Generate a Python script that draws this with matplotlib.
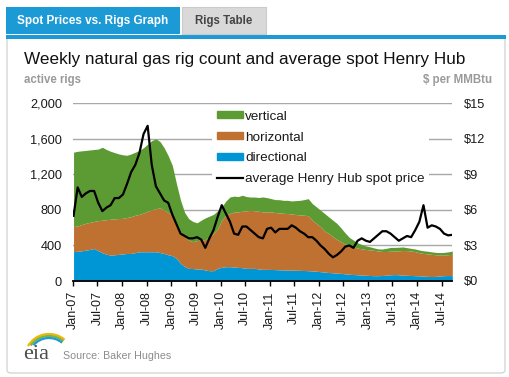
import numpy as np
import pandas as pd
import matplotlib
matplotlib.use("Agg")
import matplotlib.pyplot as plt
import matplotlib.dates as mdates
from matplotlib.patches import Rectangle, FancyBboxPatch, Patch, Arc
from matplotlib.lines import Line2D
from matplotlib.ticker import FuncFormatter

plt.rcParams['font.family'] = ['Liberation Sans', 'DejaVu Sans']

# ---------------- data (monthly readings, Jan-2007 .. Sep-2014) ----------------
first_week = "2007-01-05"
last_week = "2014-09-19"

# cumulative level of directional rigs (bottom layer)
directional_top = [330, 335, 340, 348, 355, 366, 340, 318, 300, 292, 295, 300,
                   305, 310, 310, 320, 329, 329, 329, 329, 329, 320, 310, 295,
                   285, 254, 198, 161, 142, 140, 135, 135, 123, 116, 116, 142,
                   155, 161, 161, 158, 153, 150, 142, 142, 142, 135, 131, 131,
                   130, 128, 126, 125, 123, 122, 121, 120, 118, 116, 113, 110,
                   105, 100, 96, 92, 88, 86, 80, 76, 73, 70, 67, 65,
                   62, 60, 60, 62, 66, 70, 72, 70, 66, 64, 62, 60,
                   58, 55, 52, 50, 52, 56, 60, 62, 60]
# cumulative level of directional + horizontal rigs
horizontal_top = [612, 620, 635, 650, 660, 670, 680, 684, 690, 695, 700, 703,
                  705, 715, 725, 740, 750, 765, 785, 800, 815, 822, 800, 770,
                  740, 647, 553, 497, 460, 441, 455, 460, 467, 497, 535, 590,
                  684, 740, 759, 775, 778, 785, 789, 796, 790, 785, 778, 778,
                  778, 770, 766, 762, 759, 754, 748, 744, 740, 735, 684, 647,
                  609, 561, 535, 497, 467, 441, 415, 400, 385, 370, 362, 355,
                  350, 345, 338, 332, 332, 335, 337, 340, 343, 342, 338, 330,
                  318, 310, 305, 300, 295, 292, 292, 296, 300]
# total natural gas rigs (directional + horizontal + vertical)
total_rigs = [1450, 1460, 1465, 1470, 1475, 1480, 1485, 1505, 1480, 1460, 1445, 1430,
              1420, 1415, 1430, 1450, 1470, 1500, 1540, 1580, 1600, 1570, 1500, 1410,
              1300, 1095, 908, 770, 700, 670, 655, 684, 710, 730, 750, 790,
              834, 900, 946, 955, 950, 965, 950, 945, 945, 940, 946, 938,
              927, 916, 915, 908, 908, 901, 905, 908, 916, 927, 871, 834,
              796, 759, 721, 684, 647, 595, 540, 490, 460, 430, 410, 395,
              385, 372, 362, 360, 368, 378, 378, 380, 383, 375, 367, 360,
              348, 340, 335, 328, 322, 320, 322, 328, 337]
# average Henry Hub spot price, $/MMBtu
henry_hub = [5.5, 7.9, 7.1, 7.4, 7.6, 7.6, 6.6, 5.9, 6.2, 6.4, 7.0, 7.0,
             7.3, 8.2, 9.2, 9.8, 10.8, 12.4, 13.1, 9.8, 8.0, 7.4, 6.8, 6.6,
             5.6, 4.8, 4.0, 3.8, 3.6, 3.6, 3.7, 3.5, 2.8, 3.6, 4.3, 5.4,
             6.4, 5.7, 5.0, 4.0, 3.9, 4.6, 4.6, 4.3, 4.0, 3.7, 3.6, 4.4,
             4.5, 4.1, 4.4, 4.4, 4.4, 4.7, 4.5, 4.2, 4.0, 3.7, 3.7, 3.4,
             3.0, 2.7, 2.3, 2.0, 2.2, 2.5, 2.9, 3.0, 2.8, 3.4, 3.6, 3.4,
             3.3, 3.6, 3.9, 4.2, 4.2, 4.0, 3.7, 3.4, 3.6, 3.8, 3.7, 4.3,
             5.0, 6.4, 4.5, 4.7, 4.6, 4.4, 4.0, 3.85, 3.9]

series_names = ["vertical", "horizontal", "directional", "average Henry Hub spot price"]
rig_ticks = [0, 400, 800, 1200, 1600, 2000]
price_ticks = [0, 3, 6, 9, 12, 15]

dates = pd.date_range(first_week, last_week, periods=len(total_rigs))

# ---------------- styling ----------------
C_GREEN = "#5c9b34"
C_BROWN = "#be7130"
C_BLUE = "#0096d6"
C_TAB = "#1b9ad6"

W, H = 510, 377
fig = plt.figure(figsize=(W / 100, H / 100), dpi=100)
fig.patch.set_facecolor("white")


def fx(x):
    return x / W


def fy(y):
    return 1 - y / H


# panel frame, tabs (drawn beneath the axes)
deco = [
    FancyBboxPatch((fx(7), fy(373)), fx(505) - fx(7), fy(37) - fy(373),
                   boxstyle="round,pad=0,rounding_size=0.008",
                   fc="white", ec="#d6d6d6", lw=1),
    Rectangle((fx(6), fy(38.5)), fx(505.5) - fx(6), fy(34.5) - fy(38.5), fc=C_TAB, ec="none"),
    Rectangle((fx(6), fy(33.5)), fx(180) - fx(6), fy(7) - fy(33.5), fc=C_TAB, ec="none"),
    Rectangle((fx(181.5), fy(33.5)), fx(266) - fx(181.5), fy(7.5) - fy(33.5),
              fc="#d9d9d9", ec="#cacaca", lw=0.8),
]
for p in deco:
    p.set_transform(fig.transFigure)
    p.set_zorder(-10)
    fig.patches.append(p)

fig.text(fx(93), fy(21), "Spot Prices vs. Rigs Graph", color="white", fontsize=8.5,
         fontweight="bold", ha="center", va="center")
fig.text(fx(224), fy(21), "Rigs Table", color="#454545", fontsize=8.3,
         fontweight="bold", ha="center", va="center")

# titles
fig.text(fx(24), fy(64.3), "Weekly natural gas rig count and average spot Henry Hub",
         fontsize=12.3, color="#111111", ha="left", va="baseline")
fig.text(fx(24), fy(82.5), "active rigs", fontsize=8.3, color="#9a9a9a",
         fontweight="bold", ha="left", va="baseline")
fig.text(fx(491.7), fy(82.5), "$ per MMBtu", fontsize=8.3, color="#9a9a9a",
         fontweight="bold", ha="right", va="baseline")

# main axes
ax = fig.add_axes([fx(73), fy(281), fx(452.3) - fx(73), fy(103.3) - fy(281)])
ax.patch.set_alpha(0)
zeros = np.zeros(len(dates))
ax.fill_between(dates, zeros, directional_top, color=C_BLUE, lw=0, zorder=2)
ax.fill_between(dates, directional_top, horizontal_top, color=C_BROWN, lw=0, zorder=2)
ax.fill_between(dates, horizontal_top, total_rigs, color=C_GREEN, lw=0, zorder=2)
ax.set_xlim(pd.Timestamp("2007-01-01"), dates[-1])
ax.set_ylim(0, 2000)
ax.set_yticks(rig_ticks)
ax.yaxis.set_major_formatter(FuncFormatter(lambda v, p: f"{int(v):,}"))
ax.yaxis.grid(True, color="#a8a8a8", lw=1)
ax.set_axisbelow(True)
ax.tick_params(axis="y", length=0, pad=8, labelsize=9.2, labelcolor="#1a1a1a")
ax.xaxis.set_major_locator(mdates.MonthLocator(bymonth=[1, 7]))
ax.xaxis.set_major_formatter(mdates.DateFormatter("%b-%y"))
ax.tick_params(axis="x", length=3.8, width=1, color="black", pad=3.5, labelsize=9,
               labelrotation=90, labelcolor="#1a1a1a")
for s in ["top", "left", "right"]:
    ax.spines[s].set_visible(False)
ax.spines["bottom"].set_color("black")
ax.spines["bottom"].set_linewidth(1.3)
ax.spines["bottom"].set_zorder(5)

ax2 = ax.twinx()
ax2.plot(dates, henry_hub, color="black", lw=1.6, zorder=4)
ax2.set_ylim(0, 15)
ax2.set_yticks(price_ticks)
ax2.yaxis.set_major_formatter(FuncFormatter(lambda v, p: f"${int(v)}"))
ax2.tick_params(axis="y", length=0, pad=8, labelsize=9.2, labelcolor="#1a1a1a")
for s in ["top", "left", "right", "bottom"]:
    ax2.spines[s].set_visible(False)

handles = [Patch(color=C_GREEN), Patch(color=C_BROWN), Patch(color=C_BLUE),
           Line2D([], [], color="black", lw=1.6)]
leg = ax2.legend(handles, series_names, loc="upper left",
                 bbox_to_anchor=(fx(212), fy(106)), bbox_transform=fig.transFigure,
                 frameon=True, fancybox=False, framealpha=1, facecolor="white",
                 edgecolor="none", fontsize=9.7, handlelength=1.95, handleheight=0.42,
                 handletextpad=0.15, labelspacing=0.66, borderpad=0.35, borderaxespad=0)
for t in leg.get_texts():
    t.set_color("#1a1a1a")

# source + logo
fig.text(fx(63.3), fy(359), "Source: Baker Hughes", fontsize=7.7, color="#8c8c8c",
         ha="left", va="baseline")
fig.text(fx(23), fy(359.3), "eia", fontsize=16, color="#4d4d4d",
         family=["Liberation Serif", "DejaVu Serif"], ha="left", va="baseline")
# logo swooshes: small axes in pixel units (x right, y up), origin at (20, 350)
lax = fig.add_axes([fx(20), fy(350), fx(70) - fx(20), fy(328) - fy(350)])
lax.set_xlim(0, 50)
lax.set_ylim(0, 22)
lax.axis("off")
for (r, col, t2) in [(24.3, "#f2b705", 150), (22.3, "#7cb342", 145), (20.3, "#1f9bd7", 140)]:
    lax.add_patch(Arc((29, -8.3), 2 * r, 2 * r, theta1=50, theta2=t2,
                      color=col, lw=1.6))

fig.savefig("out.png", dpi=100, facecolor="white")
